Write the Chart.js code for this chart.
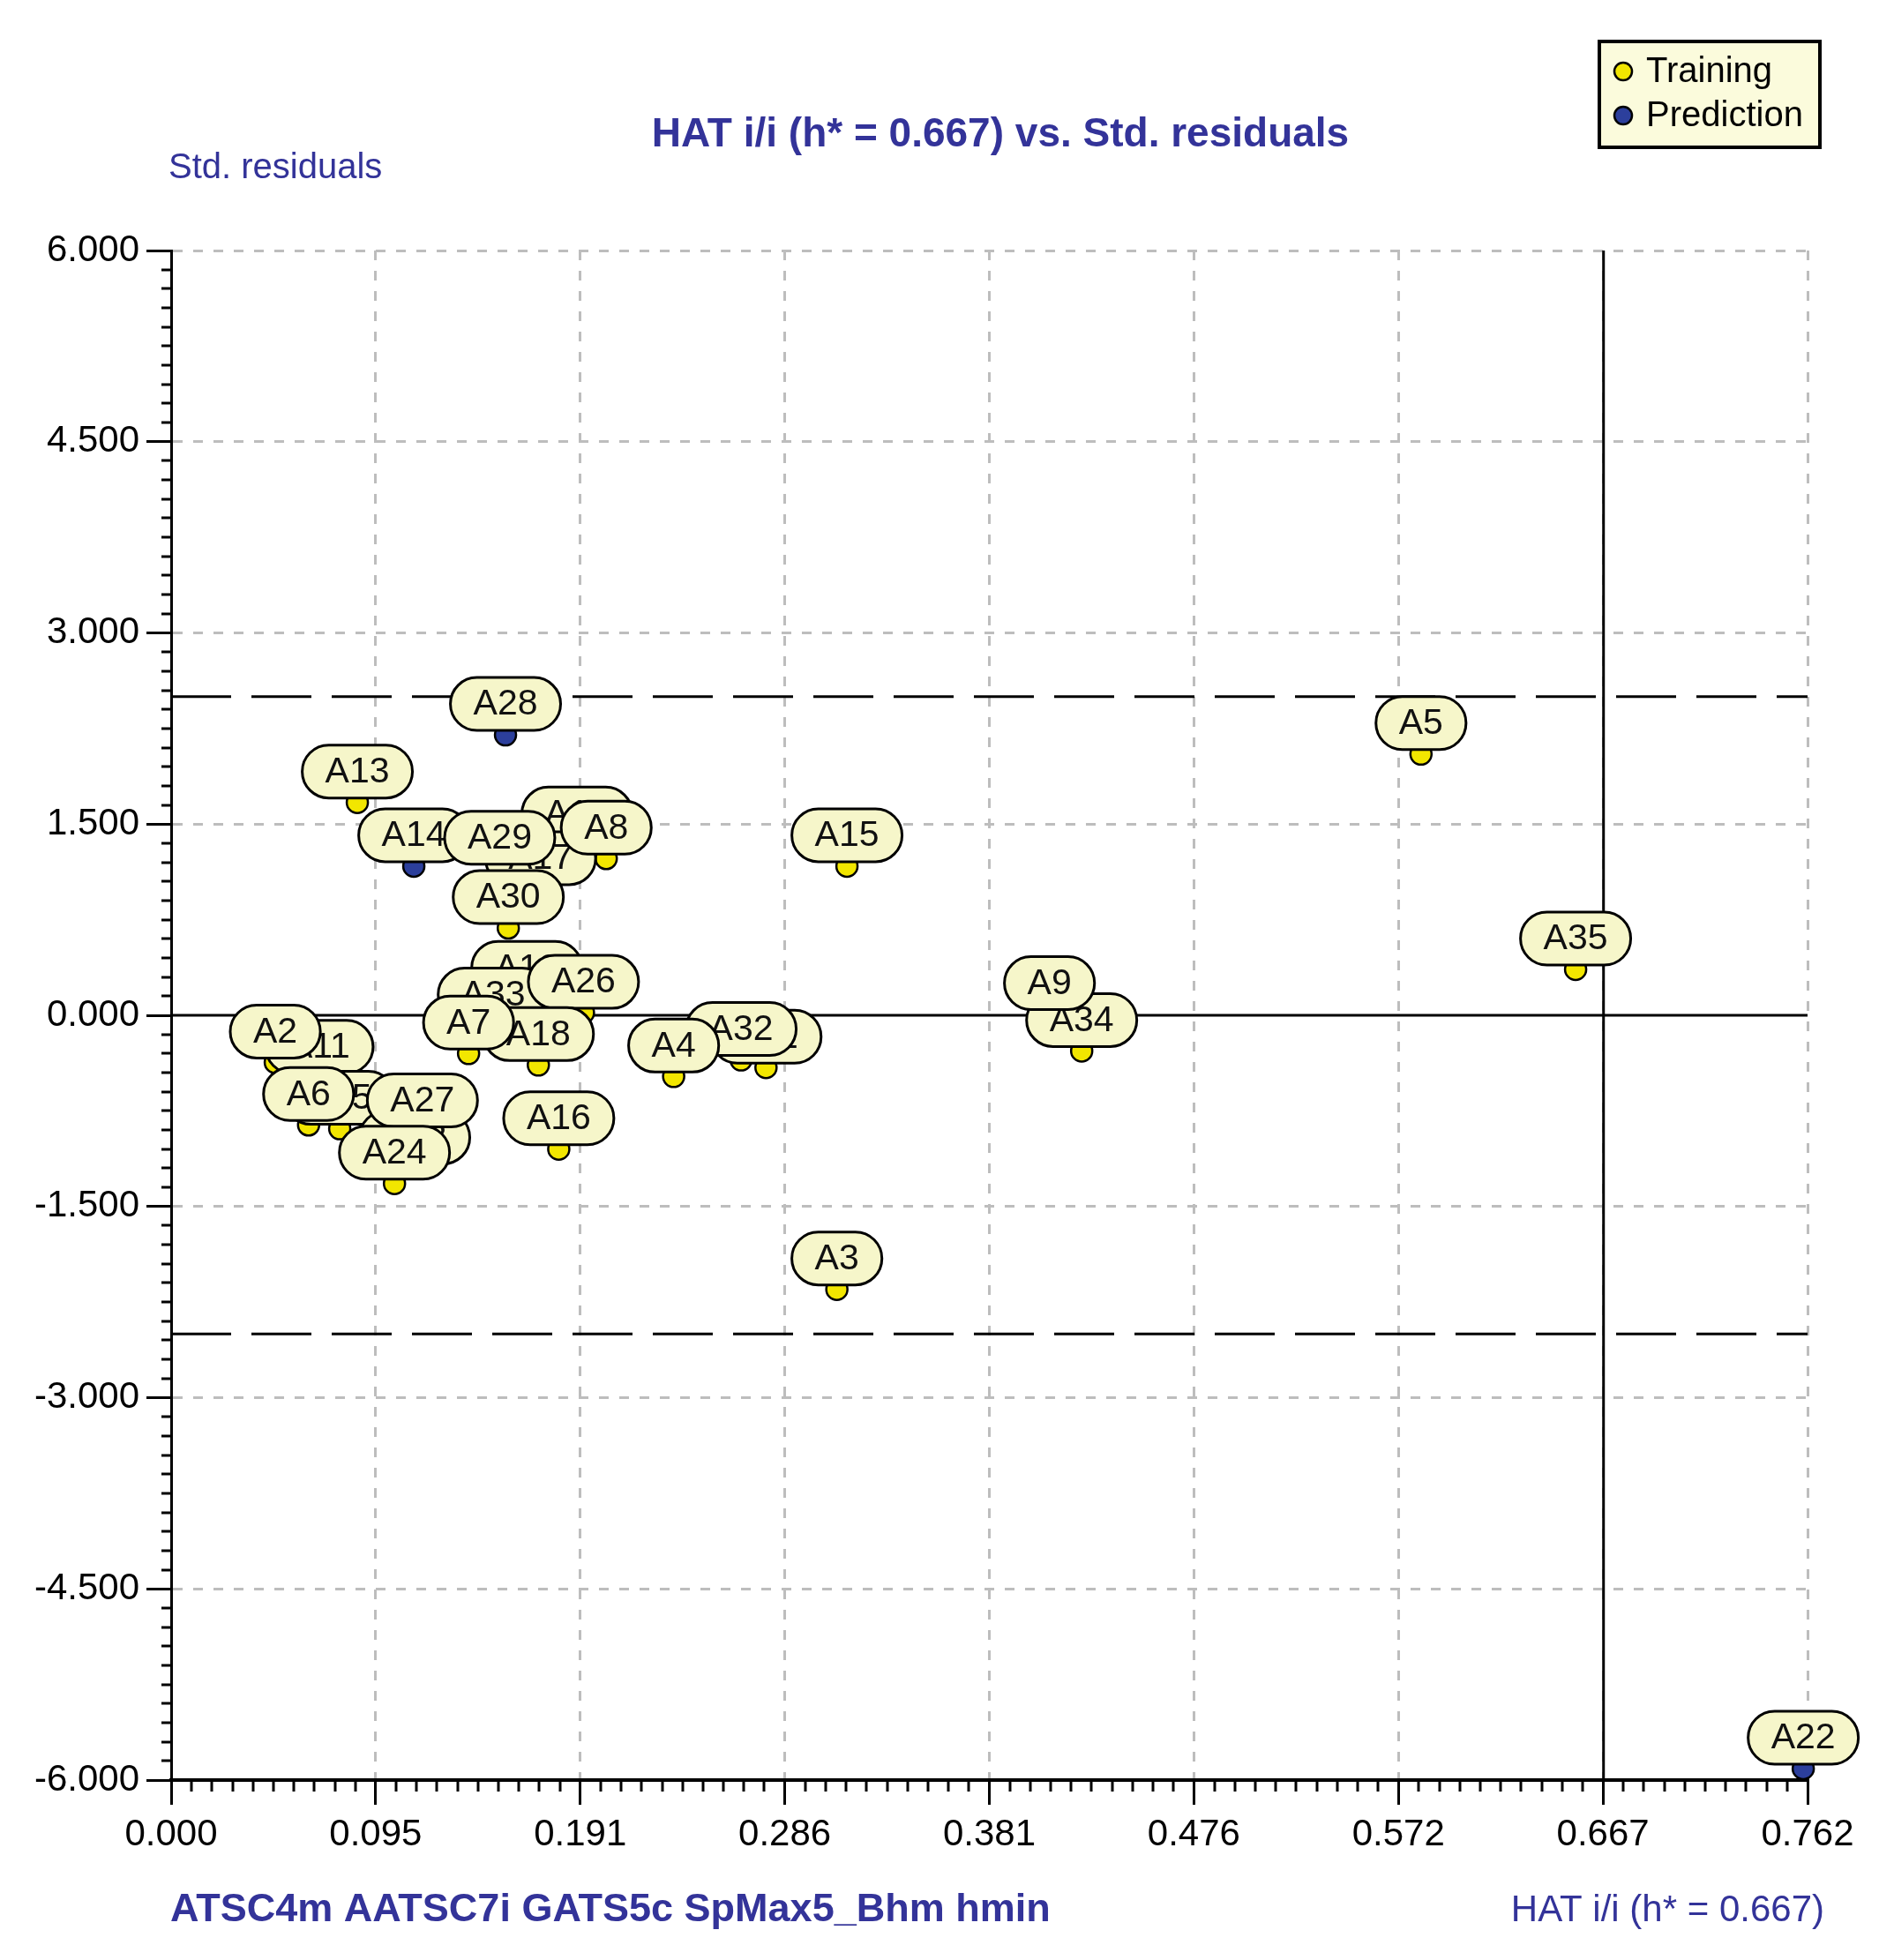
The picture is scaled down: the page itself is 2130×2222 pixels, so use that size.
<!DOCTYPE html>
<html>
<head>
<meta charset="utf-8">
<style>
html,body{margin:0;padding:0;background:#ffffff;}
canvas{display:block;}
</style>
<script src="https://cdn.jsdelivr.net/npm/chart.js@4.4.1/dist/chart.umd.min.js"></script>
</head>
<body>
<canvas id="c" width="2130" height="2222"></canvas>
<script>
// ---------- data ----------
const trainingLabels = ['A10','A17','A13','A29','A8','A30','A12','A33','A26','A18','A7','A16','A11','A2','A25','A6','A23','A27','A24','A31','A32','A4','A34','A9','A3','A15','A5','A35'];
const trainingHat    = [0.189,0.172,0.0867,0.153,0.2026,0.157,0.1656,0.150,0.192,0.171,0.1385,0.1805,0.069,0.0485,0.0785,0.064,0.1134,0.117,0.104,0.277,0.2654,0.234,0.424,0.409,0.310,0.3147,0.582,0.654];
const trainingResid  = [1.34,0.99,1.67,1.15,1.23,0.685,0.13,-0.08,0.02,-0.39,-0.30,-1.05,-0.49,-0.37,-0.89,-0.86,-1.20,-0.91,-1.32,-0.41,-0.35,-0.48,-0.28,0.01,-2.15,1.17,2.05,0.36];

const predictionLabels = ['A28','A14','A22'];
const predictionHat    = [0.1557,0.113,0.760];
const predictionResid  = [2.20,1.17,-5.91];

const xTickValues = [0.000,0.09525,0.1905,0.28575,0.381,0.47625,0.5715,0.66675,0.762];
const xTickLabels = ['0.000','0.095','0.191','0.286','0.381','0.476','0.572','0.667','0.762'];
const yTickValues = [-6,-4.5,-3,-1.5,0,1.5,3,4.5,6];
const yTickLabels = ['-6.000','-4.500','-3.000','-1.500','0.000','1.500','3.000','4.500','6.000'];

const hStar = 0.667;
const residLimit = 2.5;
const xMin = 0, xMax = 0.762, yMin = -6, yMax = 6;

const titleText = 'HAT i/i (h* = 0.667) vs. Std. residuals';
const yAxisText = 'Std. residuals';
const xAxisText = 'HAT i/i (h* = 0.667)';
const modelText = 'ATSC4m AATSC7i GATS5c SpMax5_Bhm hmin';

// ---------- style ----------
const FONT = '"Liberation Sans", Arial, sans-serif';
const BLUE_TEXT = '#333399';
const YELLOW = '#f2e600';
const BLUE = '#2c3f9c';
const BUBBLE_FILL = '#f6f6ca';
const GRID = '#bdbdbd';

function toPoints(xs, ys){ return xs.map((x,i)=>({x:x, y:ys[i]})); }

function roundedPath(ctx,x,y,w,h,rx,ry){
  ctx.moveTo(x+rx,y);
  ctx.lineTo(x+w-rx,y);
  ctx.ellipse(x+w-rx,y+ry,rx,ry,0,-Math.PI/2,0);
  ctx.lineTo(x+w,y+h-ry);
  ctx.ellipse(x+w-rx,y+h-ry,rx,ry,0,0,Math.PI/2);
  ctx.lineTo(x+rx,y+h);
  ctx.ellipse(x+rx,y+h-ry,rx,ry,0,Math.PI/2,Math.PI);
  ctx.lineTo(x,y+ry);
  ctx.ellipse(x+rx,y+ry,rx,ry,0,Math.PI,1.5*Math.PI);
  ctx.closePath();
}

// bubbles with point names, drawn above each dot
const bubblePlugin = {
  id:'bubbles',
  afterDatasetsDraw(chart){
    const ctx = chart.ctx;
    ctx.save();
    ctx.font = '41px ' + FONT;
    [0,1].forEach(di=>{
      const ds = chart.data.datasets[di];
      const meta = chart.getDatasetMeta(di);
      meta.data.forEach((pt,i)=>{
        const label = ds.pointLabels[i];
        const tw = ctx.measureText(label).width;
        const w = tw + 52, h = 60;
        const left = pt.x - w/2, bottom = pt.y - 5, top = bottom - h;
        ctx.beginPath();
        roundedPath(ctx,left,top,w,h,30,30);
        ctx.fillStyle = BUBBLE_FILL;
        ctx.fill();
        ctx.lineWidth = 3;
        ctx.strokeStyle = '#000';
        ctx.stroke();
        ctx.fillStyle = '#111';
        ctx.textAlign = 'center';
        ctx.textBaseline = 'middle';
        ctx.fillText(label, pt.x, top + h/2 + 1);
      });
    });
    ctx.restore();
  }
};

// minor ticks, titles, legend
const decorPlugin = {
  id:'decor',
  afterDraw(chart){
    const ctx = chart.ctx;
    const xs = chart.scales.x, ys = chart.scales.y;
    const area = chart.chartArea;
    ctx.save();
    ctx.strokeStyle = '#000';
    ctx.lineWidth = 3;
    ctx.beginPath();
    for(let i=0;i<xTickValues.length-1;i++){
      const a = xTickValues[i], b = xTickValues[i+1];
      for(let k=1;k<10;k++){
        const px = Math.round(xs.getPixelForValue(a+(b-a)*k/10));
        ctx.moveTo(px, area.bottom);
        ctx.lineTo(px, area.bottom+13);
      }
    }
    for(let i=0;i<yTickValues.length-1;i++){
      const a = yTickValues[i], b = yTickValues[i+1];
      for(let k=1;k<10;k++){
        const py = Math.round(ys.getPixelForValue(a+(b-a)*k/10));
        ctx.moveTo(area.left-11, py);
        ctx.lineTo(area.left, py);
      }
    }
    ctx.stroke();

    // texts
    ctx.fillStyle = BLUE_TEXT;
    ctx.textBaseline = 'middle';
    ctx.textAlign = 'center';
    ctx.font = 'bold 46px ' + FONT;
    ctx.fillText(titleText, 1134, 153);
    ctx.textAlign = 'left';
    ctx.font = '40px ' + FONT;
    ctx.fillText(yAxisText, 191, 191);
    ctx.font = 'bold 45px ' + FONT;
    ctx.fillText(modelText, 193, 2166);
    ctx.textAlign = 'right';
    ctx.font = '42px ' + FONT;
    ctx.fillText(xAxisText, 2068, 2166);

    // legend
    const lx = 1813, ly = 47, lw = 250, lh = 120;
    ctx.fillStyle = '#fbfbdc';
    ctx.fillRect(lx,ly,lw,lh);
    ctx.lineWidth = 4;
    ctx.strokeStyle = '#000';
    ctx.strokeRect(lx,ly,lw,lh);
    const items = [chart.data.datasets[1], chart.data.datasets[0]];
    items.forEach((ds,i)=>{
      const cy = 81 + i*50;
      ctx.beginPath();
      ctx.arc(1840, cy, 10, 0, Math.PI*2);
      ctx.fillStyle = ds.backgroundColor;
      ctx.fill();
      ctx.lineWidth = 2.5;
      ctx.strokeStyle = '#000';
      ctx.stroke();
      ctx.fillStyle = '#000';
      ctx.textAlign = 'left';
      ctx.textBaseline = 'middle';
      ctx.font = '40px ' + FONT;
      ctx.fillText(ds.label, 1866, cy+1);
    });
    ctx.restore();
  }
};

const refLine = (pts, dash, w) => ({
  label:'', data:pts, showLine:true, pointRadius:0, borderColor:'#000',
  borderWidth:w, borderDash:dash, fill:false, order:5, clip:false
});

new Chart(document.getElementById('c'), {
  type:'scatter',
  data:{
    datasets:[
      { label:'Prediction', data:toPoints(predictionHat,predictionResid), pointLabels:predictionLabels,
        backgroundColor:BLUE, borderColor:'#000', borderWidth:2.5, pointRadius:12, order:0, clip:false },
      { label:'Training', data:toPoints(trainingHat,trainingResid), pointLabels:trainingLabels,
        backgroundColor:YELLOW, borderColor:'#000', borderWidth:2.5, pointRadius:12, order:1, clip:false },
      refLine([{x:xMin,y:residLimit},{x:xMax,y:residLimit}], [68,23], 3),
      refLine([{x:xMin,y:-residLimit},{x:xMax,y:-residLimit}], [68,23], 3),
      refLine([{x:xMin,y:0},{x:xMax,y:0}], [], 3),
      refLine([{x:hStar,y:yMin},{x:hStar,y:yMax}], [], 3)
    ]
  },
  options:{
    responsive:false,
    devicePixelRatio:1,
    animation:false,
    events:[],
    layout:{padding:{top:284,right:81,bottom:0,left:0}},
    plugins:{legend:{display:false},title:{display:false},tooltip:{enabled:false}},
    scales:{
      x:{
        type:'linear', min:xMin, max:xMax,
        afterBuildTicks:s=>{ s.ticks = xTickValues.map(v=>({value:v})); },
        afterFit:s=>{ s.height = 204; },
        ticks:{autoSkip:false, maxRotation:0, minRotation:0, padding:9, color:'#000',
               font:{family:FONT,size:42}, callback:(v,i)=>xTickLabels[i]},
        grid:{color:c=> (c.tick && c.tick.value===0) ? 'rgba(0,0,0,0)' : GRID,
              lineWidth:3, drawTicks:true, tickLength:28, tickWidth:3, tickColor:'#000'},
        border:{display:true, color:'#000', width:4, dash:[11,12]}
      },
      y:{
        type:'linear', min:yMin, max:yMax,
        afterBuildTicks:s=>{ s.ticks = yTickValues.map(v=>({value:v})); },
        afterFit:s=>{ s.width = 194; },
        ticks:{autoSkip:false, padding:8, color:'#000',
               font:{family:FONT,size:42}, callback:(v,i)=>yTickLabels[i]},
        grid:{color:c=> (c.tick && (c.tick.value===0 || c.tick.value===-6)) ? 'rgba(0,0,0,0)' : GRID,
              lineWidth:3, drawTicks:true, tickLength:28, tickWidth:3, tickColor:'#000'},
        border:{display:true, color:'#000', width:3, dash:[11,12]}
      }
    }
  },
  plugins:[bubblePlugin, decorPlugin]
});
</script>
</body>
</html>
